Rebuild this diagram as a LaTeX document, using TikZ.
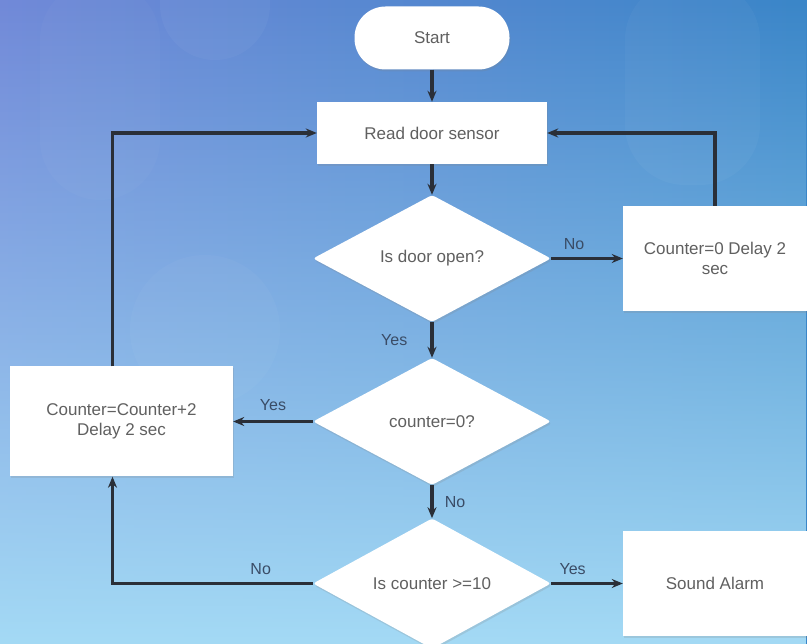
\documentclass[tikz,border=0pt]{standalone}
\usepackage{fontspec}
\setmainfont{Liberation Sans}
\usepackage{xcolor}
\usetikzlibrary{shapes.geometric, arrows.meta, positioning, shadows, fadings}

\definecolor{bgleft}{HTML}{7189D8}
\definecolor{bgright}{HTML}{3A86C8}
\definecolor{bglow}{HTML}{A4DAF5}
\definecolor{txtgray}{HTML}{606060}
\definecolor{lblblue}{HTML}{3A4C66}
\definecolor{linedark}{HTML}{2A2F38}

\begin{document}
\begin{tikzpicture}[
    x=1pt, y=-1pt,
    box/.style      = {rectangle, fill=white, text=txtgray, font=\fontsize{17}{20}\selectfont,
                       align=center, inner sep=2pt,
                       drop shadow={opacity=0.2, shadow xshift=1pt, shadow yshift=-2pt}},
    terminal/.style = {box, rounded corners=31pt, minimum width=155pt, minimum height=63pt},
    process/.style  = {box, minimum width=230pt, minimum height=62pt},
    sidebox/.style  = {box, minimum width=184pt, minimum height=105pt},
    decision/.style = {box, diamond, rounded corners=3pt, inner sep=0pt,
                       minimum width=238pt, minimum height=127pt},
    lbl/.style      = {text=lblblue, font=\fontsize{16}{18}\selectfont, inner sep=1pt},
    arr/.style      = {-{Stealth[length=11pt, width=9pt]}, line width=3.5pt, draw=linedark}
]

% ---- Background ----
\useasboundingbox (0,0) rectangle (807,644);
\shade[left color=bgleft, right color=bgright] (0,0) rectangle (807,644);
\fill[bglow, path fading=north] (0,0) rectangle (807,644);
\fill[white, opacity=0.035] (215,5) circle (55);
\fill[white, opacity=0.03, rounded corners=60pt] (625,-20) rectangle (760,185);
\fill[white, opacity=0.03] (205,330) circle (75);
\fill[white, opacity=0.025, rounded corners=60pt] (40,-20) rectangle (160,200);

% ---- Main column ----
\node[terminal] (start) at (432,38)    {Start};
\node[process]  (read)  at (432,133)   {Read door sensor};
\node[decision] (door)  at (432,258.5) {Is door open?};
\node[decision] (check) at (432,421.5) {counter=0?};
\node[decision] (limit) at (432,583.5) {Is counter >=10};

% ---- Side boxes ----
\node[sidebox] (zero)  at (715,258.5) {Counter=0 Delay 2\\sec};
\node[sidebox, minimum width=223pt, minimum height=110pt]
               (plus)  at (121.5,421.5) {Counter=Counter+2\\Delay 2 sec};
\node[sidebox] (alarm) at (715,583.5) {Sound Alarm};

% ---- Arrows ----
\draw[arr] (start) -- (read);
\draw[arr] (read)  -- (door);
\draw[arr] (door.east)  -- node[lbl, above=6pt, pos=0.32]{No} (zero.west);
\draw[arr] (zero.north) |- (read.east);
\draw[arr] (door.south) -- node[lbl, left=22pt]{Yes} (check.north);
\draw[arr] (check.west) -- node[lbl, above=8pt]{Yes} (plus.east);
\draw[arr] ([xshift=-9pt]plus.north) |- (read.west);
\draw[arr] (check.south) -- node[lbl, right=10pt]{No} (limit.north);
\draw[arr] (limit.east) -- node[lbl, above=6pt, pos=0.3]{Yes} (alarm.west);
\draw[arr] (limit.west) -| node[lbl, above=6pt, pos=0.13]{No} ([xshift=-9pt]plus.south);

\end{tikzpicture}
\end{document}
